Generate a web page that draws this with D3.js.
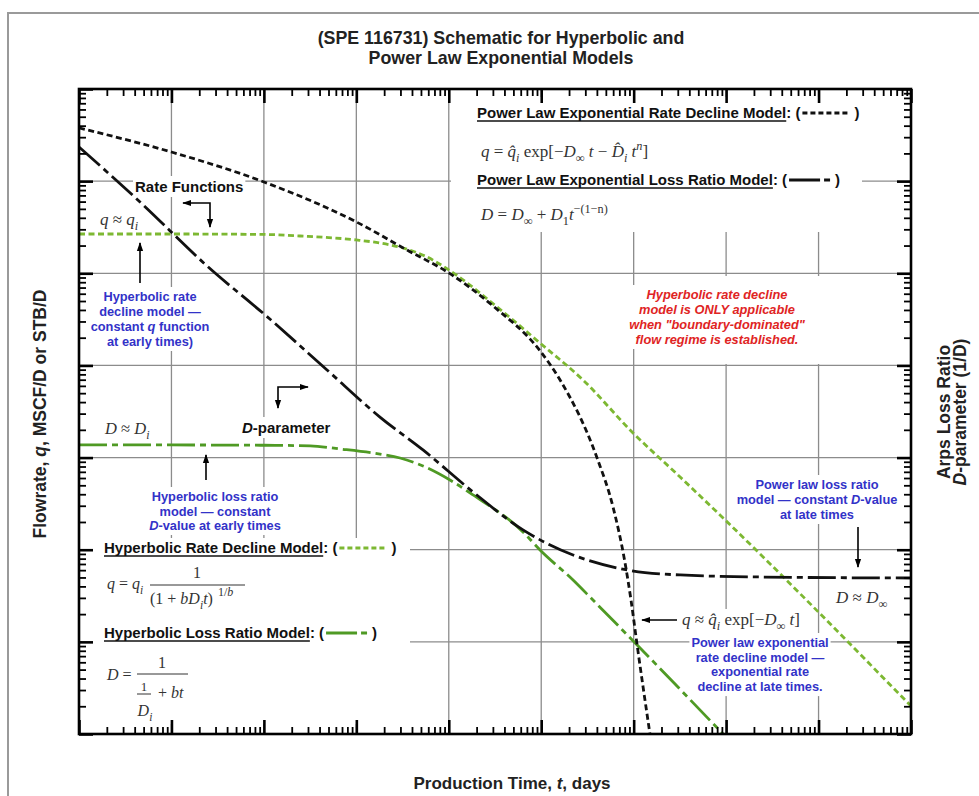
<!DOCTYPE html>
<html>
<head>
<meta charset="utf-8">
<script src="https://cdn.jsdelivr.net/npm/d3@7"></script>
<style>
  body { margin: 0; background: #fff; }
  svg { display: block; font-family: "Liberation Sans", Arial, sans-serif; }
</style>
</head>
<body>
<svg id="chart" width="979" height="796"></svg>
<script>
// axis ranges (schematic, no tick labels): time in days, rate / loss ratio
var tDomain = [1e-2, 1e7];
var vDomain = [1e-4, 1e3];

// Power law exponential rate decline model (black, short dashes)
var plerT = [0.01, 0.1, 1, 10, 35.3, 100, 301, 970, 1600, 4020, 5980, 8070, 9360, 10900, 15000];
var plerQ = [378, 207, 98, 36.1, 17.9, 10.1, 4.42, 1.44, 0.695, 0.0989, 0.0291, 0.00718, 0.00284, 0.000925, 0.0001];

// Power law exponential loss ratio model (black, dash-dot)
var pllrT = [0.01, 0.0457, 0.243, 1.16, 4.82, 18.0, 52.6, 183, 635, 2210, 8470, 31800, 233000, 1e7];
var pllrD = [235, 59.4, 12.0, 3.19, 0.893, 0.275, 0.121, 0.0423, 0.0164, 0.00877, 0.00603, 0.00532, 0.00506, 0.00493];

// Hyperbolic rate decline model (green, short dashes)
var hypRateT = [0.01, 0.1, 1, 2.46, 10, 18.0, 32.0, 55.3, 100, 333, 970, 2830, 9840, 31800, 92700, 1e7];
var hypRateQ = [26.7, 26.7, 26.4, 25.4, 23.0, 21.3, 18.8, 15.4, 10.9, 4.31, 1.75, 0.695, 0.185, 0.0615, 0.0221, 0.000201];

// Hyperbolic loss ratio model (green, dash-dot)
var hypLossT = [0.01, 0.1, 1, 3.16, 6.65, 18.0, 29.7, 52.6, 103, 183, 635, 970, 2210, 3630, 10900, 92700];
var hypLossD = [0.137, 0.137, 0.136, 0.134, 0.124, 0.109, 0.0989, 0.0811, 0.0571, 0.0393, 0.0156, 0.00993, 0.00469, 0.00284, 0.000925, 0.0001];

var decadesT = d3.range(-2, 8).map(function (e) { return Math.pow(10, e); });
var decadesV = d3.range(-4, 4).map(function (e) { return Math.pow(10, e); });

var pL = 79, pR = 911, pT = 89, pB = 734;
var serif = "'Liberation Serif', 'Times New Roman', serif";
var blue = "#3232c8", red = "#e02424";
var greenDash = "#7db832", greenDot = "#4f9a24";

var svg = d3.select("#chart");

var x = d3.scaleLog().domain(tDomain).range([pL, pR]);
var y = d3.scaleLog().domain(vDomain).range([pB, pT]);

function minors(decs) {
    var out = [];
    decs.slice(0, -1).forEach(function (d) {
        for (var k = 2; k < 10; k++) out.push(d * k);
    });
    return out;
}

// outer frame of the figure
svg.append("path")
    .attr("d", "M8,800 V13 H990")
    .attr("fill", "none")
    .attr("stroke", "#9a9a9a")
    .attr("stroke-width", 2);

var defs = svg.append("defs");
defs.append("clipPath").attr("id", "plotclip")
    .append("rect").attr("x", pL).attr("y", pT)
    .attr("width", pR - pL).attr("height", pB - pT);

defs.append("marker")
    .attr("id", "arr")
    .attr("viewBox", "0 0 10 10")
    .attr("refX", 9).attr("refY", 5)
    .attr("markerUnits", "userSpaceOnUse")
    .attr("markerWidth", 9).attr("markerHeight", 9)
    .attr("orient", "auto-start-reverse")
    .append("path").attr("d", "M0,1.5 L10,5 L0,8.5 z").attr("fill", "#000");

var gridLayer = svg.append("g");
var bgLayer = svg.append("g");
var curveLayer = svg.append("g").attr("clip-path", "url(#plotclip)");
var axisLayer = svg.append("g");
var textLayer = svg.append("g");

// grid
gridLayer.selectAll(".vg").data(decadesT.slice(1, -1)).enter().append("line")
    .attr("x1", function (d) { return x(d); }).attr("x2", function (d) { return x(d); })
    .attr("y1", pT).attr("y2", pB)
    .attr("stroke", "#8c8c8c").attr("stroke-width", 1.3);
gridLayer.selectAll(".hg").data(decadesV.slice(1, -1)).enter().append("line")
    .attr("y1", function (d) { return y(d); }).attr("y2", function (d) { return y(d); })
    .attr("x1", pL).attr("x2", pR)
    .attr("stroke", "#8c8c8c").attr("stroke-width", 1.3);

// white boxes that hide the grid behind the legend blocks
function box(x0, y0, w, h) {
    bgLayer.append("rect").attr("x", x0).attr("y", y0).attr("width", w).attr("height", h).attr("fill", "#fff");
}
box(451, 97, 454, 73);
box(451, 170, 411, 26);
box(451, 196, 454, 36);
box(82, 538, 328, 186);
box(636, 276, 272, 88);

// curves
var line = d3.line()
    .x(function (d) { return x(d[0]); })
    .y(function (d) { return y(d[1]); })
    .curve(d3.curveMonotoneX);

function series(ts, vs, color, dash) {
    curveLayer.append("path")
        .datum(d3.zip(ts, vs))
        .attr("d", line)
        .attr("fill", "none")
        .attr("stroke", color)
        .attr("stroke-width", 2.8)
        .attr("stroke-dasharray", dash);
}
series(hypRateT, hypRateQ, greenDash, "6,3.5");
series(hypLossT, hypLossD, greenDot, "28,5,6,5");
series(plerT, plerQ, "#111", "6,3.5");
series(pllrT, pllrD, "#111", "28,5,6,5");

// axes: inward ticks on all four sides
function ticks(gen, vals, size, width, tr) {
    axisLayer.append("g")
        .attr("transform", tr)
        .call(gen.tickValues(vals).tickSize(-size).tickFormat(""))
        .call(function (g) {
            g.select(".domain").remove();
            g.selectAll("line").attr("stroke", "#000").attr("stroke-width", width);
        });
}
var mT = minors(decadesT), mV = minors(decadesV);
ticks(d3.axisTop(x), mT, 7, 1.8, "translate(0," + pT + ")");
ticks(d3.axisTop(x), decadesT, 14, 2.6, "translate(0," + pT + ")");
ticks(d3.axisBottom(x), mT, 7, 1.8, "translate(0," + pB + ")");
ticks(d3.axisBottom(x), decadesT, 14, 2.6, "translate(0," + pB + ")");
ticks(d3.axisLeft(y), mV, 7, 1.8, "translate(" + pL + ",0)");
ticks(d3.axisLeft(y), decadesV, 14, 2.6, "translate(" + pL + ",0)");
ticks(d3.axisRight(y), mV, 7, 1.8, "translate(" + pR + ",0)");
ticks(d3.axisRight(y), decadesV, 14, 2.6, "translate(" + pR + ",0)");

axisLayer.append("rect")
    .attr("x", pL).attr("y", pT)
    .attr("width", pR - pL).attr("height", pB - pT)
    .attr("fill", "none").attr("stroke", "#000").attr("stroke-width", 2.6);

// text helpers
function rich(parent, x0, y0, parts, size, family, anchor) {
    var t = parent.append("text")
        .attr("x", x0).attr("y", y0)
        .attr("font-size", size)
        .attr("text-anchor", anchor || "start");
    if (family) t.attr("font-family", family);
    var shift = 0;
    parts.forEach(function (p) {
        if (typeof p === "string") p = { t: p };
        var s = t.append("tspan").text(p.t);
        var target = p.sub ? size * 0.3 : (p.sup ? -size * 0.42 : 0);
        if (target !== shift) { s.attr("dy", target - shift); shift = target; }
        if (p.sub || p.sup) s.attr("font-size", size * 0.72);
        if (p.i) s.attr("font-style", "italic");
    });
    return t;
}

function withBg(node, pad) {
    var b = node.getBBox();
    bgLayer.append("rect")
        .attr("x", b.x - pad).attr("y", b.y - pad)
        .attr("width", b.width + 2 * pad).attr("height", b.height + 2 * pad)
        .attr("fill", "#fff");
}

function block(cx, y0, lh, lines, color, size, italic) {
    var g = textLayer.append("g")
        .attr("fill", color).attr("font-weight", "bold");
    if (italic) g.attr("font-style", "italic");
    lines.forEach(function (l, i) {
        rich(g, cx, y0 + i * lh, typeof l === "string" ? [l] : l, size, null, "middle");
    });
    withBg(g.node(), 2);
    return g;
}

// title
var title = textLayer.append("g").attr("font-weight", "bold").attr("font-size", 17.8).attr("text-anchor", "middle").attr("fill", "#222");
title.append("text").attr("x", 501).attr("y", 44).text("(SPE 116731) Schematic for Hyperbolic and");
title.append("text").attr("x", 501).attr("y", 64).text("Power Law Exponential Models");

// axis titles
var lab = textLayer.append("g").attr("font-weight", "bold").attr("fill", "#222");
rich(lab, 0, 0, ["Flowrate, ", { t: "q", i: 1 }, ", MSCF/D or STB/D"], 17.5, null, "middle")
    .attr("transform", "translate(46,414) rotate(-90)");
rich(lab, 512, 789, ["Production Time, ", { t: "t", i: 1 }, ", days"], 17, null, "middle");
rich(lab, 0, 0, ["Arps Loss Ratio"], 17.5, null, "middle")
    .attr("transform", "translate(950,412) rotate(-90)");
rich(lab, 0, 0, [{ t: "D", i: 1 }, "-parameter (1/D)"], 17.5, null, "middle")
    .attr("transform", "translate(966,412) rotate(-90)");

// legend entries
function legendEntry(x0, yb, name, sep, color, dash, len) {
    var g = textLayer.append("g").attr("font-weight", "bold").attr("font-size", 15).attr("fill", "#111");
    var t1 = g.append("text").attr("x", x0).attr("y", yb).text(name);
    var w1 = t1.node().getComputedTextLength();
    g.append("line").attr("x1", x0).attr("x2", x0 + w1)
        .attr("y1", yb + 3).attr("y2", yb + 3)
        .attr("stroke", "#111").attr("stroke-width", 1.4);
    var t2 = g.append("text").attr("x", x0 + w1).attr("y", yb).text(sep);
    var w2 = t2.node().getComputedTextLength();
    var sx = x0 + w1 + w2 + 2;
    g.append("line").attr("x1", sx).attr("x2", sx + len)
        .attr("y1", yb - 5).attr("y2", yb - 5)
        .attr("stroke", color).attr("stroke-width", 2.8)
        .attr("stroke-dasharray", dash);
    g.append("text").attr("x", sx + len + 4).attr("y", yb).text(")");
}

legendEntry(477, 118, "Power Law Exponential Rate Decline Model", ": (", "#111", "5,3", 48);
legendEntry(477, 185, "Power Law Exponential Loss Ratio Model", ":   (", "#111", "31,4,6,100", 42);
legendEntry(104, 553, "Hyperbolic Rate Decline Model", ": (", greenDash, "5,3", 48);
legendEntry(104, 638, "Hyperbolic Loss Ratio Model", ": (", greenDot, "31,4,6,100", 42);

var mg = textLayer.append("g").attr("fill", "#333");
rich(mg, 481, 157, [{ t: "q", i: 1 }, " = ", { t: "q\u0302", i: 1 }, { t: "i", i: 1, sub: 1 }, " exp[\u2212", { t: "D", i: 1 }, { t: "\u221E", sub: 1 },
    { t: " t", i: 1 }, " \u2212 ", { t: "D\u0302", i: 1 }, { t: "i", i: 1, sub: 1 }, { t: " t", i: 1 }, { t: "n", i: 1, sup: 1 }, "]"], 17, serif);
rich(mg, 481, 220, [{ t: "D", i: 1 }, " = ", { t: "D", i: 1 }, { t: "\u221E", sub: 1 }, " + ", { t: "D", i: 1 }, { t: "1", sub: 1 },
    { t: "t", i: 1 }, { t: "\u2212(1\u2212n)", sup: 1 }], 17, serif);

// hyperbolic rate formula
rich(mg, 107, 589, [{ t: "q", i: 1 }, " = ", { t: "q", i: 1 }, { t: "i", i: 1, sub: 1 }], 16, serif);
rich(mg, 197, 578, ["1"], 16, serif, "middle");
mg.append("line").attr("x1", 150).attr("x2", 245).attr("y1", 585).attr("y2", 585).attr("stroke", "#333").attr("stroke-width", 1);
var den = rich(mg, 150, 604, ["(1 + ", { t: "bD", i: 1 }, { t: "i", i: 1, sub: 1 }, { t: "t", i: 1 }, ")"], 16, serif);
var denW = den.node().getComputedTextLength();
rich(mg, 150 + denW + 5, 596, ["1/", { t: "b", i: 1 }], 12, serif);

// hyperbolic loss ratio formula
rich(mg, 107, 680, [{ t: "D", i: 1 }, " ="], 16, serif);
rich(mg, 162, 668, ["1"], 16, serif, "middle");
mg.append("line").attr("x1", 137).attr("x2", 188).attr("y1", 674).attr("y2", 674).attr("stroke", "#333").attr("stroke-width", 1);
rich(mg, 144, 691, ["1"], 13, serif, "middle");
mg.append("line").attr("x1", 137).attr("x2", 151).attr("y1", 694).attr("y2", 694).attr("stroke", "#333").attr("stroke-width", 1);
rich(mg, 158, 698, ["+ ", { t: "bt", i: 1 }], 16, serif);
rich(mg, 145, 716, [{ t: "D", i: 1 }, { t: "i", i: 1, sub: 1 }], 16, serif, "middle");

// math labels on the curves
withBg(rich(mg, 100, 225, [{ t: "q", i: 1 }, " \u2248 ", { t: "q", i: 1 }, { t: "i", i: 1, sub: 1 }], 17, serif).node(), 1);
withBg(rich(mg, 105, 434, [{ t: "D", i: 1 }, " \u2248 ", { t: "D", i: 1 }, { t: "i", i: 1, sub: 1 }], 16.5, serif).node(), 1);
withBg(rich(mg, 836, 603, [{ t: "D", i: 1 }, " \u2248 ", { t: "D", i: 1 }, { t: "\u221E", sub: 1 }], 17, serif).node(), 1);
withBg(rich(mg, 682, 625, [{ t: "q", i: 1 }, " \u2248 ", { t: "q\u0302", i: 1 }, { t: "i", i: 1, sub: 1 }, " exp[\u2212", { t: "D", i: 1 },
    { t: "\u221E", sub: 1 }, { t: " t", i: 1 }, "]"], 17, serif).node(), 1);

// bold black labels
var rf = rich(textLayer, 135, 192, ["Rate Functions"], 15, null).attr("font-weight", "bold").attr("fill", "#111");
withBg(rf.node(), 2);
var dp = rich(textLayer, 242, 433, [{ t: "D", i: 1 }, "-parameter"], 15, null).attr("font-weight", "bold").attr("fill", "#111");
withBg(dp.node(), 2);

// blue and red notes
block(150, 301, 15, ["Hyperbolic rate", "decline model \u2014", ["constant ", { t: "q", i: 1 }, " function"], "at early times)"], blue, 12.8);
block(215, 501, 14.5, ["Hyperbolic loss ratio", "model \u2014 constant", [{ t: "D", i: 1 }, "-value at early times"]], blue, 12.8);
block(817, 489, 15, ["Power law loss ratio", ["model \u2014 constant ", { t: "D", i: 1 }, "-value"], "at late times"], blue, 12.8);
block(760, 647, 14.7, ["Power law exponential", "rate decline model \u2014", "exponential rate", "decline at late times."], blue, 12.8);
block(717, 299, 15, ["Hyperbolic rate decline", "model is ONLY applicable", "when \"boundary-dominated\"", "flow regime is established."], red, 12.8, true);

// arrows
var arrows = [
    "M210,227 V203 H183",
    "M140,283 V243",
    "M278,408 V387 H308",
    "M206,480 V455",
    "M858,527 V567",
    "M677,620 H642"
];
textLayer.selectAll(".arrow").data(arrows).enter().append("path")
    .attr("d", function (d) { return d; })
    .attr("fill", "none")
    .attr("stroke", "#000")
    .attr("stroke-width", 1.6)
    .attr("marker-end", "url(#arr)")
    .attr("marker-start", function (d, i) { return (i === 0 || i === 2) ? "url(#arr)" : null; });
</script>
</body>
</html>
